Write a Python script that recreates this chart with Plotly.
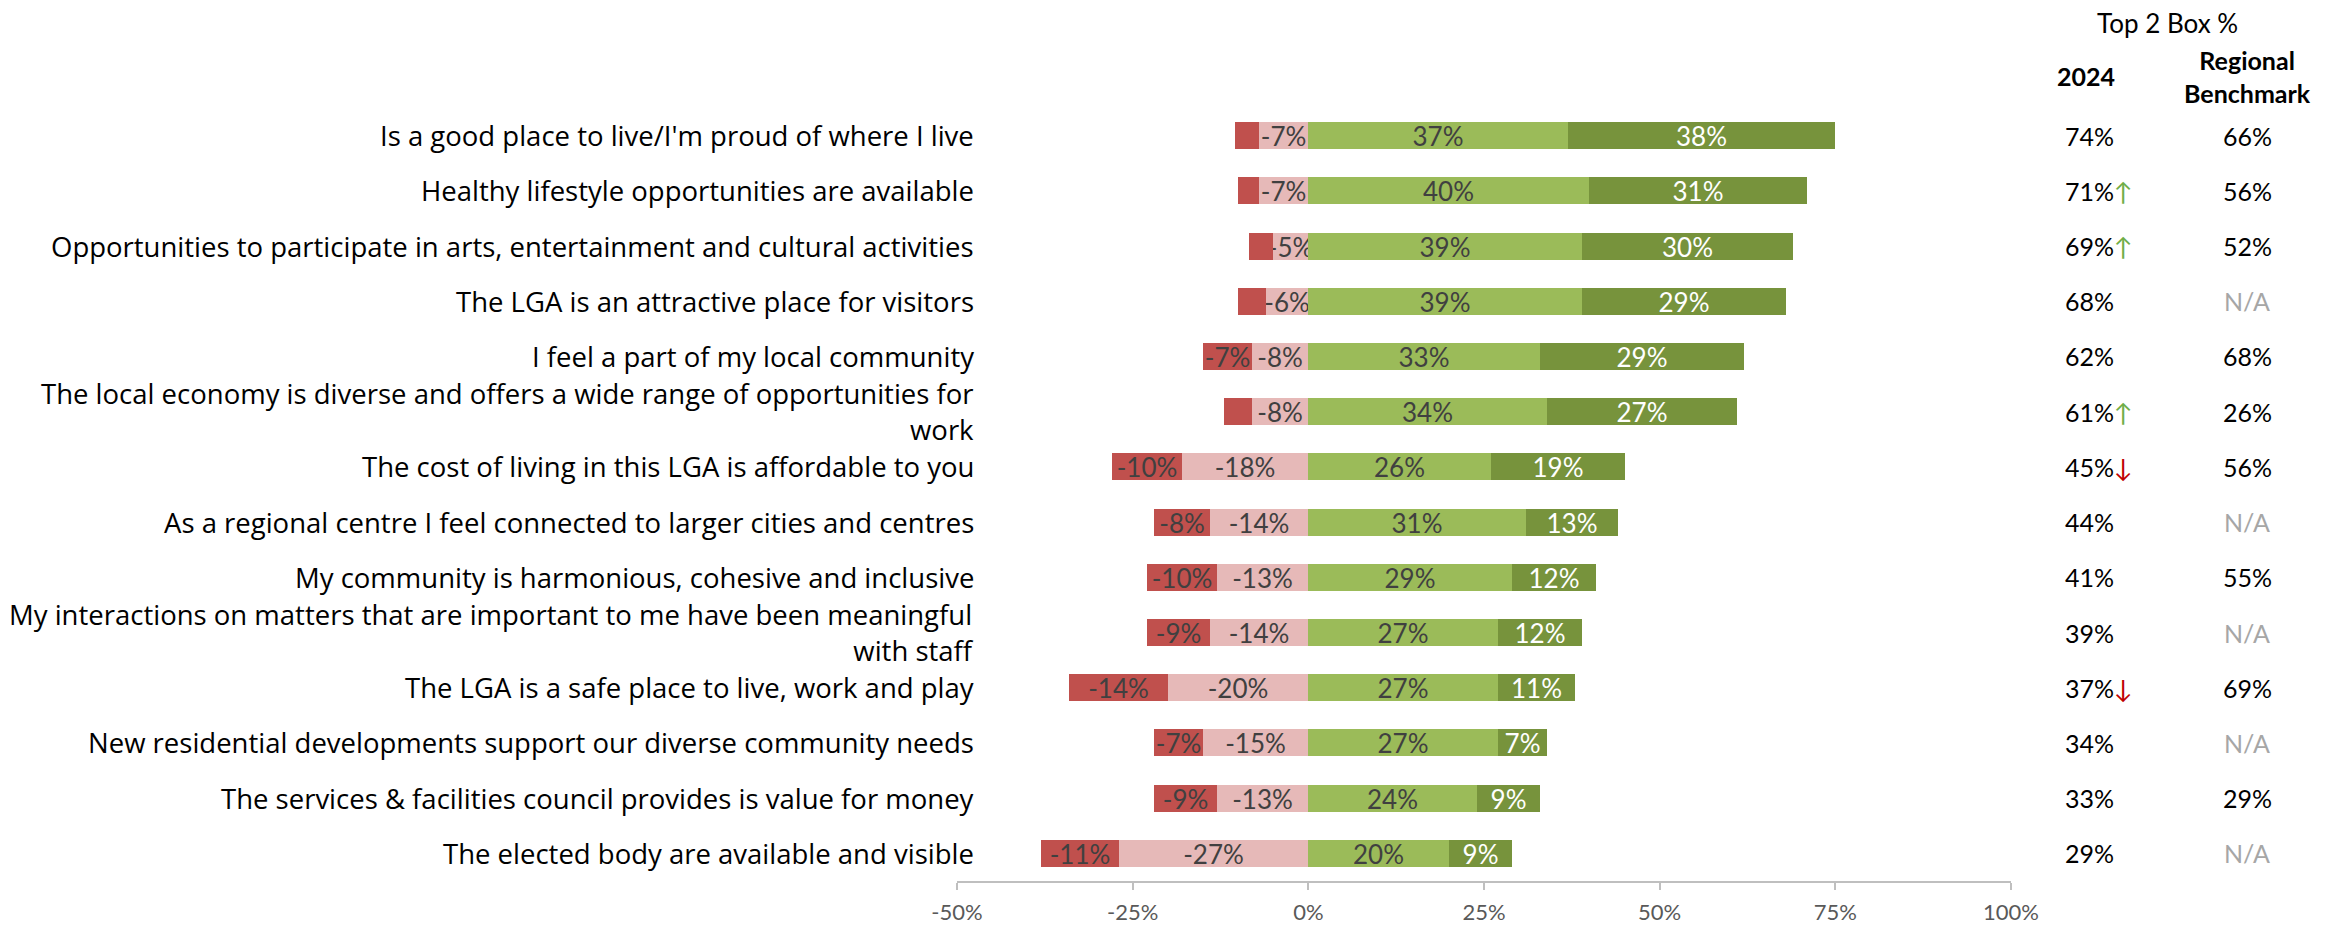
import plotly.graph_objects as go

# Survey statements, top to bottom
statements = [
    "Is a good place to live/I'm proud of where I live",
    "Healthy lifestyle opportunities are available",
    "Opportunities to participate in arts, entertainment and cultural activities",
    "The LGA is an attractive place for visitors",
    "I feel a part of my local community",
    "The local economy is diverse and offers a wide range of opportunities for<br>work",
    "The cost of living in this LGA is affordable to you",
    "As a regional centre I feel connected to larger cities and centres",
    "My community is harmonious, cohesive and inclusive",
    "My interactions on matters that are important to me have been meaningful<br>with staff",
    "The LGA is a safe place to live, work and play",
    "New residential developments support our diverse community needs",
    "The services & facilities council provides is value for money",
    "The elected body are available and visible",
]

# Share of responses (%) per rating group
strongly_disagree = [-3.5, -3, -3.5, -4, -7, -4, -10, -8, -10, -9, -14, -7, -9, -11]
disagree = [-7, -7, -5, -6, -8, -8, -18, -14, -13, -14, -20, -15, -13, -27]
agree = [37, 40, 39, 39, 33, 34, 26, 31, 29, 27, 27, 27, 24, 20]
strongly_agree = [38, 31, 30, 29, 29, 27, 19, 13, 12, 12, 11, 7, 9, 9]

# Top 2 Box table
top2_2024 = [74, 71, 69, 68, 62, 61, 45, 44, 41, 39, 37, 34, 33, 29]
trend = ["", "up", "up", "", "", "up", "down", "", "", "", "down", "", "", ""]
benchmark = [66, 56, 52, None, 68, 26, 56, None, 55, None, 69, None, 29, None]

x_ticks = [-50, -25, 0, 25, 50, 75, 100]

W, H = 2343, 930
ML, MR, MT, MB = 957, 332, 108, 49
PW, PH = W - ML - MR, H - MT - MB


def px_x(p):
    return (p - ML) / PW


def px_y(p):
    return (H - MB - p) / PH


FONT = "Lato, sans-serif"
LABEL_FONT = "'Open Sans', sans-serif"
DARK_TEXT = "#404040"


def seg_labels(vals, min_abs=5):
    return [f"{round(v)}%" if abs(v) >= min_abs else "" for v in vals]


fig = go.Figure()

series = [
    (disagree, "#E6B9B8", DARK_TEXT, "Disagree"),
    (strongly_disagree, "#C0504D", DARK_TEXT, "Strongly disagree"),
    (agree, "#9BBB59", DARK_TEXT, "Agree"),
    (strongly_agree, "#77933C", "#FFFFFF", "Strongly agree"),
]
for vals, color, tcolor, name in series:
    fig.add_trace(go.Bar(
        y=statements, x=vals, orientation="h", name=name,
        marker=dict(color=color, line=dict(width=0)),
        width=0.49,
        text=seg_labels(vals), textposition="inside", insidetextanchor="middle",
        textangle=0, constraintext="none",
        textfont=dict(family=FONT, size=26, color=tcolor),
        hoverinfo="skip",
    ))

annotations = []
# Statement labels
for s in statements:
    annotations.append(dict(
        xref="paper", yref="y", x=px_x(976), y=s, text=s,
        xanchor="right", yanchor="middle", align="right", showarrow=False,
        font=dict(family=LABEL_FONT, size=27.5, color="#000000"),
    ))

# Table headers
annotations.append(dict(
    xref="paper", yref="paper", x=px_x(2167), y=px_y(23), text="Top 2 Box %",
    showarrow=False, xanchor="center", yanchor="middle",
    font=dict(family=FONT, size=26, color="#000000"),
))
annotations.append(dict(
    xref="paper", yref="paper", x=px_x(2086), y=px_y(76), text="<b>2024</b>",
    showarrow=False, xanchor="center", yanchor="middle",
    font=dict(family=FONT, size=25, color="#000000"),
))
annotations.append(dict(
    xref="paper", yref="paper", x=px_x(2247), y=px_y(77),
    text="<b>Regional<br>Benchmark</b>",
    showarrow=False, xanchor="center", yanchor="middle", align="center",
    font=dict(family=FONT, size=25, color="#000000"),
))

# Table values
for s, v, t, b in zip(statements, top2_2024, trend, benchmark):
    txt = f"{v}%"
    if t == "up":
        txt += '<span style="color:#70AD47">↑</span>'
    elif t == "down":
        txt += '<span style="color:#C00000">↓</span>'
    annotations.append(dict(
        xref="paper", yref="y", x=px_x(2063), y=s, text=txt,
        showarrow=False, xanchor="left", yanchor="middle",
        font=dict(family=FONT, size=25, color="#000000"),
    ))
    annotations.append(dict(
        xref="paper", yref="y", x=px_x(2247), y=s,
        text=f"{b}%" if b is not None else "N/A",
        showarrow=False, xanchor="center", yanchor="middle",
        font=dict(family=FONT, size=25,
                  color="#000000" if b is not None else "#A6A6A6"),
    ))

fig.update_layout(
    width=W, height=H,
    margin=dict(l=ML, r=MR, t=MT, b=MB, pad=0),
    barmode="relative", bargap=0,
    plot_bgcolor="white", paper_bgcolor="white",
    showlegend=False,
    annotations=annotations,
    xaxis=dict(
        range=[-50, 100], tickvals=x_ticks,
        ticktext=[f"{t}%" for t in x_ticks],
        showgrid=False, zeroline=False, automargin=False,
        showline=True, linecolor="#BFBFBF", linewidth=2,
        ticks="outside", ticklen=7, tickcolor="#BFBFBF", tickwidth=2,
        ticklabelstandoff=4,
        tickfont=dict(family=FONT, size=22, color="#595959"),
        fixedrange=True,
    ),
    yaxis=dict(
        autorange="reversed", showticklabels=False, showgrid=False,
        zeroline=False, showline=False, ticks="", fixedrange=True,
        automargin=False,
    ),
)

fig.write_html("out.html")
